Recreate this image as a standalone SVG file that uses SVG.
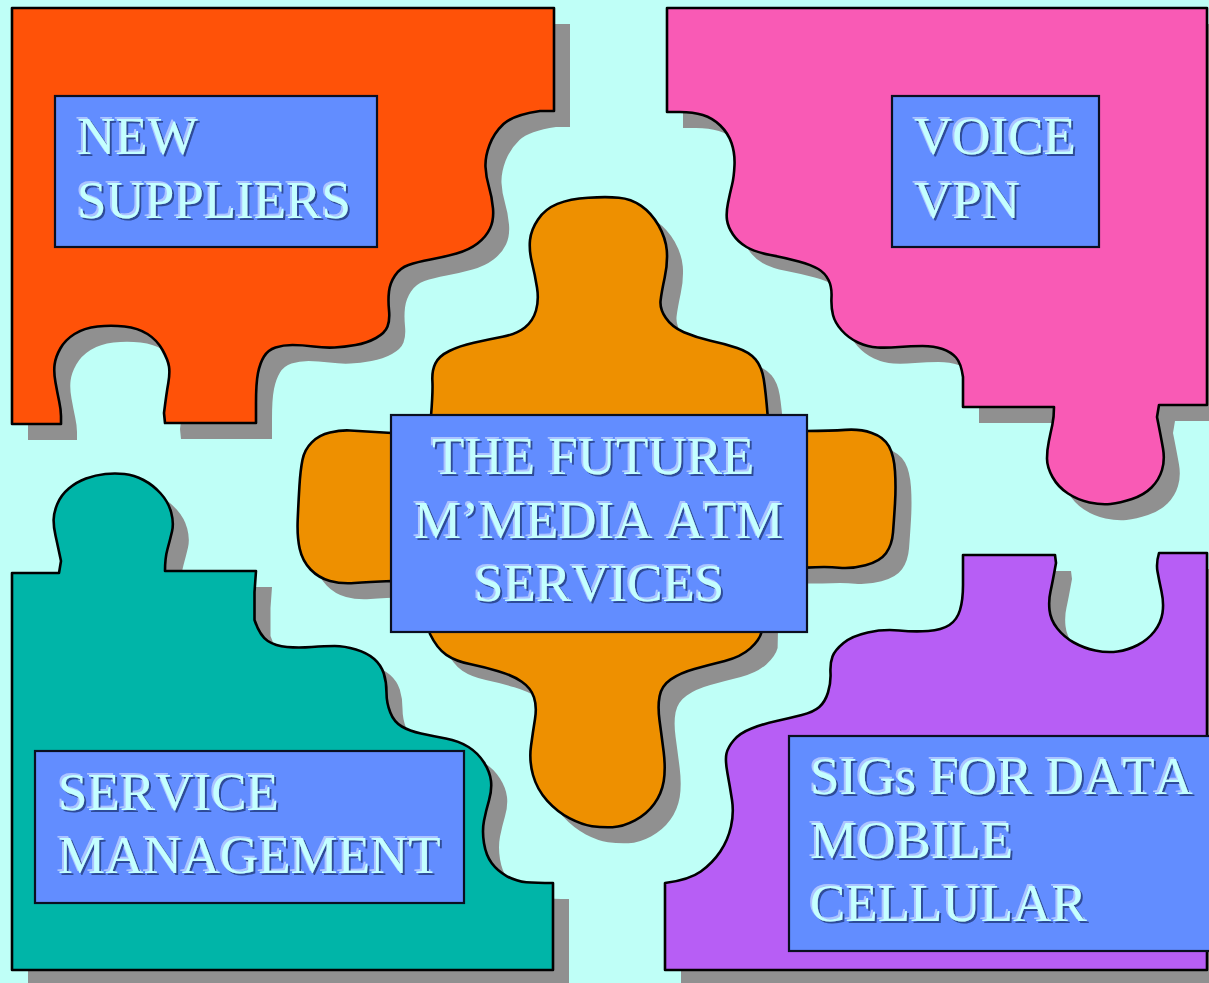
<svg xmlns="http://www.w3.org/2000/svg" xmlns:xlink="http://www.w3.org/1999/xlink" width="1209" height="983" viewBox="0 0 1209 983">
<style>
.piece { stroke: #000; stroke-width: 2.6; stroke-linejoin: round; }
.shadow { fill: #909090; }
.box { fill: #628DFF; stroke: #0a0f20; stroke-width: 2.2; }
.lbl { font-family: "Liberation Serif", "Times New Roman", serif; font-size: 53px; fill: #C4FFFF; font-kerning: none; filter: url(#emboss); }
</style>
<defs>
<filter id="emboss" x="-5%" y="-20%" width="110%" height="140%">
<feOffset in="SourceAlpha" dx="-2" dy="-2" result="a"/>
<feFlood flood-color="#ADC4FF"/>
<feComposite operator="in" in2="a" result="hl"/>
<feOffset in="SourceAlpha" dx="1.6" dy="1.6" result="b"/>
<feFlood flood-color="#2F4C98"/>
<feComposite operator="in" in2="b" result="sh"/>
<feMerge><feMergeNode in="hl"/><feMergeNode in="sh"/><feMergeNode in="SourceGraphic"/></feMerge>
</filter>
<path id="p-tl" d="M12,8 L554,8 L554,111 L540,111 Q513,115 503.5,124 Q494,133 489.5,145 Q485,157 485.5,167 Q486,177 489,187 Q492,197 493,208.5 Q494,220 490,228.5 Q486,237 477.5,243.5 Q469,250 456.5,253.5 Q444,257 430.5,259.5 Q417,262 408.5,265 Q400,268 395,275.5 Q390,283 389,291.5 Q388,300 389,310 Q390,320 387.5,326.5 Q385,333 376,338 Q367,343 355.5,345 Q344,347 334.5,347.5 Q325,348 313.5,346.5 Q302,345 292.5,345 Q283,345 275.5,347.5 Q268,350 264,356.5 Q260,363 258,373 Q256,383 256,403 L256,423 L165,423 L164,413 Q166.5,393 168.3,383 Q170,373 169,366.5 Q168,360 162.5,350 Q157,340 147.5,334 Q138,328 124.5,326.5 Q111,325 97.5,326.5 Q84,328 74.5,334 Q65,340 60.3,348.5 Q55.5,357 54.6,364.5 Q53.6,372 55.5,382.5 Q57.4,393 59.2,401.5 Q61,410 61,416 L61,424 L12,424 Z"/>
<path id="p-tr" d="M667,8 L1207,8 L1207,405 L1159,405 L1157,417 Q1161,437 1163,448.5 Q1165,460 1162,470 Q1159,480 1151.5,487.5 Q1144,495 1132,499 Q1120,503 1110.5,504 Q1101,505 1089.5,502.5 Q1078,500 1068,493.5 Q1058,487 1052.5,477 Q1047,467 1047,458.5 Q1047,450 1048.8,441.5 Q1050.5,433 1052.3,425 Q1054,417 1054,407 L963,407 L963,377 Q961,363 956,357.5 Q951,352 942.5,349 Q934,346 922.5,346 Q911,346 899,347 Q887,348 877.5,347.5 Q868,347 858,342.5 Q848.5,338 841.8,330.5 Q835,323 833,315 Q831,307 831.5,297 Q832,287 828.5,280 Q825,273 818.3,269 Q811.6,265 798.8,261.5 Q786,258 770.5,255 Q755,252 746.5,247 Q738,242 733,234.5 Q728,227 727,220 Q726,213 728,203 Q730,193 732,185 Q734,177 734.5,165 Q735,153 731.5,143 Q728,133 720.3,125.5 Q712.6,118 702.8,115 Q693,112 680,112 L667,112 Z"/>
<path id="p-bl" d="M12,573 L59,573 L61,561 Q57.4,544 55.5,535.5 Q53.6,527 53.6,520 Q53.6,513 57.3,504 Q61,495 68.8,488.5 Q76.5,482 86,478.5 Q95.7,475 105.3,474 Q115,473 124.5,474 Q134,475 143.5,480 Q153,485 160.7,493.5 Q168.4,502 171.2,512.5 Q174,523 172,531.5 Q170,540 167.5,549 Q165,558 165,571 L256,571 L254.5,592 L254.5,620 Q260,636 267.8,641 Q275.5,646 287,647 Q298.5,648 311.8,647 Q325,646 334.7,646 Q344.4,646 355.9,649.5 Q367.4,653 374.2,659 Q381,665 383.8,673.5 Q386.5,682 386.5,692.5 Q386.5,703 390.3,712.5 Q394,722 401.8,726.5 Q409.5,731 421,733.5 Q432.5,736 445.8,738.5 Q459,741 468.5,747 Q478,753 484,762.5 Q490,772 491,781 Q492,790 489,800.3 Q486,810.5 484,820.8 Q482,831 484,843.3 Q486,855.5 491.8,863.3 Q497.5,871 507,876.3 Q516.6,881.5 526.3,882.3 Q536,883 553,883 L553,970 L12,970 Z"/>
<path id="p-br" d="M963,555 L1055,555 L1056,563 Q1052.4,583 1050.5,591.5 Q1048.5,600 1049.5,610 Q1050.5,620 1057.3,628.5 Q1064,637 1073.8,642.5 Q1083.5,648 1095.3,650.5 Q1107,653 1117.5,651.5 Q1128,650 1137.8,645 Q1147.6,640 1154.3,631.5 Q1161,623 1162.5,613 Q1164,603 1161.5,591.5 Q1159,580 1157.5,571.5 Q1156,563 1159,553 L1207,553 L1207,970 L665,970 L665,883 Q689,880 700.8,871.5 Q712.6,863 720.3,851.5 Q728,840 731,826.5 Q734,813 732,800 Q730,787 727.5,773.5 Q725,760 726.5,753.5 Q728,747 734,740 Q740,733 751.5,728.5 Q763,724 776.5,721 Q790,718 801.8,715 Q813.6,712 819.3,707 Q825,702 828,692.5 Q831,683 830.5,673 Q830,663 832.5,656.5 Q835,650 843.5,643 Q852,636 867.8,632.5 Q883.5,629 899,630.5 Q914.6,632 928.2,631 Q941.7,630 949.4,625 Q957,620 960,610 Q963,600 963,585 Z"/>
<path id="p-c" d="M392,433 L350,430.5 Q341,430 330,432.5 Q319,435 311.8,442.3 Q304.5,449.5 302.5,459.8 Q300.4,470 299.4,486.5 Q298.4,503 297.7,519.8 Q297,536.5 299.7,548.8 Q302.4,561 310.6,569.5 Q318.8,578 330,581 Q341,584 354.4,583 Q367.8,582 392,581 L420,600 L430,634 Q437,648.5 446.3,654.8 Q455.5,661 469.8,664 Q484,667 498.3,671.2 Q512.6,675.4 521.8,681.7 Q531,688 534,697.3 Q537,706.5 535,719 Q533,731.4 531,746 Q529,760.4 533,775 Q537,789.5 547.3,800.8 Q557.5,812 569.8,818.4 Q582,824.7 592,826.2 Q602,827.6 612.5,827.2 Q623,826.8 635,820.4 Q647,814 654.3,803.8 Q661.6,793.6 663.7,781.2 Q665.7,768.7 663.7,752.2 Q661.6,735.6 659.6,721 Q657.6,706.5 659.6,696.2 Q661.6,685.8 670.8,679.4 Q680,673 694.3,669 Q708.6,665 724.8,661 Q741,656.8 750.3,648.4 Q759.6,640 761.6,632 L763,567.6 L806,567.6 Q827,566.4 839,567.7 Q851,569 865.5,565.2 Q880,561.4 886,553.2 Q892,545 893,532.5 Q894,520 895,503.4 Q896,486.8 895,471.3 Q894,455.7 889,446.4 Q884,437 871.8,432.9 Q859.6,428.8 845.3,429.9 Q831,431 806,431 L780,440 L767.7,416 Q765.7,391.4 763.7,379 Q761.6,366.6 755.5,359.3 Q749.4,352 737.2,347.9 Q725,343.8 710.5,340.7 Q696,337.5 683.9,332.3 Q671.8,327 665.7,317.8 Q659.6,308.5 660.6,300.3 Q661.6,292 664.7,277.5 Q667.8,263 666.8,250.5 Q665.7,238 658.6,225.5 Q651.4,213 641.2,205.9 Q631,198.7 618.8,197.7 Q606.5,196.6 588.2,197.7 Q569.8,198.7 557.4,203.9 Q545,209 538,219.4 Q531,229.7 530,240.1 Q529,250.5 532,262.8 Q535,275 537,287.5 Q539,300 536,310.5 Q533,321 524.9,327.5 Q516.7,334 502.4,336.8 Q488,339.6 473.8,342.8 Q459.6,346 449.3,351 Q439,356 435.4,363.4 Q431.8,370.7 432.4,381.1 Q433,391.5 431,416 L420,440 Z"/>
</defs>
<rect x="0" y="0" width="1209" height="983" fill="#BFFFF7"/>
<g id="shadows" class="shadow" transform="translate(16,16)">
<use xlink:href="#p-tl" href="#p-tl"/>
<use xlink:href="#p-tr" href="#p-tr"/>
<use xlink:href="#p-bl" href="#p-bl"/>
<use xlink:href="#p-br" href="#p-br"/>
<use xlink:href="#p-c" href="#p-c"/>
</g>
<g id="connectors"></g>
<g id="new-suppliers">
<use xlink:href="#p-tl" href="#p-tl" class="piece" fill="#FF5208"/>
<rect class="box" x="55" y="96" width="322" height="151"/>
<text class="lbl"><tspan x="77" y="154">NEW</tspan><tspan x="77" y="218">SUPPLIERS</tspan></text>
</g>
<g id="voice-vpn">
<use xlink:href="#p-tr" href="#p-tr" class="piece" fill="#F95AB5"/>
<rect class="box" x="892" y="96" width="207" height="151"/>
<text class="lbl"><tspan x="914" y="154">VOICE</tspan><tspan x="914" y="218">VPN</tspan></text>
</g>
<g id="service-management">
<use xlink:href="#p-bl" href="#p-bl" class="piece" fill="#00B5A8"/>
<rect class="box" x="35" y="751" width="429" height="152"/>
<text class="lbl"><tspan x="58" y="810">SERVICE</tspan><tspan x="58" y="873">MANAGEMENT</tspan></text>
</g>
<g id="sigs">
<use xlink:href="#p-br" href="#p-br" class="piece" fill="#B75EF5"/>
<rect class="box" x="789" y="736" width="425" height="215"/>
<text class="lbl"><tspan x="810" y="794">SIGs FOR DATA</tspan><tspan x="810" y="857.5">MOBILE</tspan><tspan x="810" y="921">CELLULAR</tspan></text>
</g>
<g id="future-atm">
<use xlink:href="#p-c" href="#p-c" class="piece" fill="#EE9000"/>
<rect class="box" x="391" y="415" width="416" height="217"/>
<text class="lbl"><tspan x="432" y="474">THE FUTURE</tspan><tspan x="414" y="537.5">M’MEDIA ATM</tspan><tspan x="474" y="601">SERVICES</tspan></text>
</g>
</svg>
